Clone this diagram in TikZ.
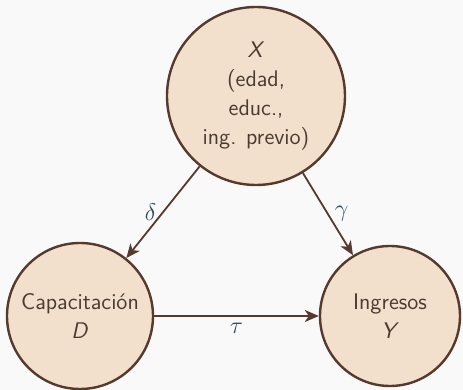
\documentclass[tikz,border=0pt]{standalone}
\usetikzlibrary{arrows.meta}
\definecolor{bgc}{HTML}{F9F9FA}
\definecolor{fillc}{HTML}{F2E0CD}
\definecolor{edgec}{HTML}{553A2D}
\definecolor{textc}{HTML}{4A3A30}
\definecolor{greekc}{HTML}{2F4A58}
\begin{document}
\begin{tikzpicture}[x=0.5pt,y=-0.5pt,
  circ/.style={circle, draw=edgec, fill=fillc, line width=1.2pt, inner sep=0pt,
    align=center, text=textc, font=\sffamily\fontsize{11.3}{14.6}\selectfont},
  arr/.style={draw=edgec, line width=0.9pt, -{Stealth[length=7pt,width=6pt,inset=2pt]}},
  lbl/.style={text=greekc, font=\fontsize{11.5}{13}\selectfont, inner sep=3pt}]
\fill[bgc] (0,0) rectangle (463,390);
\useasboundingbox (0,0) rectangle (463,390);
\node[circ, minimum size=89pt] (X) at (256,96) {\textit{X}\\(edad,\\educ.,\\ing. previo)};
\node[circ, minimum size=73pt] (D) at (80,316) {Capacitación\\\textit{D}};
\node[circ, minimum size=70pt] (Y) at (390,316) {Ingresos\\\textit{Y}};
\draw[arr] (X) -- node[lbl, left] {$\delta$} (D);
\draw[arr] (X) -- node[lbl, right] {$\gamma$} (Y);
\draw[arr] (D) -- node[lbl, below] {$\tau$} (Y);
\end{tikzpicture}
\end{document}
